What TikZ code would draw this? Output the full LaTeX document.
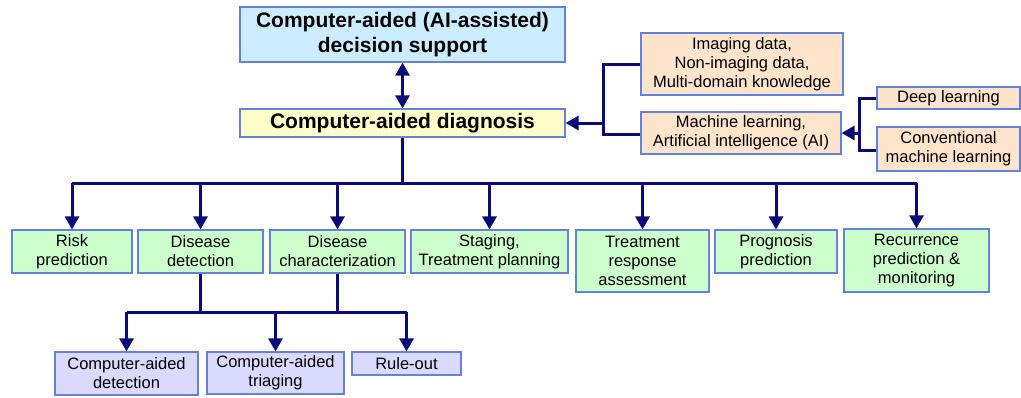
\documentclass[tikz,border=0pt]{standalone}
\usepackage{fontspec}
\setmainfont{Liberation Sans}
\usetikzlibrary{arrows.meta}
\definecolor{lblue}{RGB}{204,236,255}
\definecolor{lyellow}{RGB}{255,255,204}
\definecolor{lorange}{RGB}{253,228,202}
\definecolor{lgreen}{RGB}{204,255,204}
\definecolor{lpurple}{RGB}{218,218,255}
\definecolor{bord}{RGB}{100,130,220}
\definecolor{navyline}{RGB}{10,10,120}
\tikzset{
  box/.style={draw=bord, line width=1.2pt, inner sep=0pt, align=center, font=\fontsize{16.5}{19}\selectfont, text=black},
  bigbox/.style={box, font=\fontsize{21}{25}\selectfont\bfseries},
  conn/.style={draw=navyline, line width=3pt},
  arr/.style={conn, -{Triangle[length=13pt,width=14pt]}},
  darr/.style={conn, {Triangle[length=13pt,width=14pt]}-{Triangle[length=13pt,width=14pt]}},
}
\begin{document}
\begin{tikzpicture}[x=1pt,y=-1pt]
\useasboundingbox (0,0) rectangle (1021,397);
% top
\node[bigbox, fill=lblue, minimum width=325pt, minimum height=55pt] (top) at (402.5,34.5) {Computer-aided (AI-assisted)\\decision support};
\node[bigbox, fill=lyellow, minimum width=325pt, minimum height=28pt] (cad) at (402.5,123) {Computer-aided diagnosis};
% right
\node[box, fill=lorange, minimum width=202pt, minimum height=62pt] (img) at (742,64) {Imaging data,\\Non-imaging data,\\Multi-domain knowledge};
\node[box, fill=lorange, minimum width=200pt, minimum height=42pt] (ml) at (741,133) {Machine learning,\\Artificial intelligence (AI)};
\node[box, fill=lorange, minimum width=143pt, minimum height=22pt] (dl) at (948.5,98) {Deep learning};
\node[box, fill=lorange, minimum width=143pt, minimum height=44pt] (conv) at (948.5,149) {Conventional\\machine learning};
% middle row
\node[box, fill=lgreen, minimum width=120pt, minimum height=43pt] (risk) at (72,251.5) {Risk\\prediction};
\node[box, fill=lgreen, minimum width=125pt, minimum height=43pt] (det) at (200.5,251.5) {Disease\\detection};
\node[box, fill=lgreen, minimum width=135pt, minimum height=43pt] (char) at (337.5,251.5) {Disease\\characterization};
\node[box, fill=lgreen, minimum width=157pt, minimum height=43pt] (stag) at (489.5,251.5) {Staging,\\Treatment planning};
\node[box, fill=lgreen, minimum width=133pt, minimum height=62pt] (resp) at (642.5,261) {Treatment\\response\\assessment};
\node[box, fill=lgreen, minimum width=122pt, minimum height=43pt] (prog) at (776,251.5) {Prognosis\\prediction};
\node[box, fill=lgreen, minimum width=145pt, minimum height=63pt] (rec) at (916.5,260.5) {Recurrence\\prediction \&\\monitoring};
% bottom row
\node[box, fill=lpurple, minimum width=143pt, minimum height=43pt] (cadd) at (126.5,373.5) {Computer-aided\\detection};
\node[box, fill=lpurple, minimum width=137pt, minimum height=42pt] (cadt) at (275.5,373) {Computer-aided\\triaging};
\node[box, fill=lpurple, minimum width=109pt, minimum height=23pt] (rule) at (406.5,363.5) {Rule-out};
% coordinates
\coordinate (bus) at (403,183);
\coordinate (bus2) at (200,312);
\coordinate (j1) at (603,123);
\coordinate (j2) at (859,133);
% connectors
\draw[darr] (top.south) -- (cad.north);
\draw[conn] (cad.south) -- (cad.south |- bus);
\draw[conn] (risk.north |- bus) -- (rec.north |- bus);
\foreach \n in {risk,det,char,stag,resp,prog,rec}{
  \draw[arr] (\n.north |- bus) -- (\n.north);
}
\draw[conn] (det.south) -- (det.south |- bus2);
\draw[conn] (char.south) -- (char.south |- bus2);
\draw[conn] (cadd.north |- bus2) -- (rule.north |- bus2);
\foreach \n in {cadd,cadt,rule}{
  \draw[arr] (\n.north |- bus2) -- (\n.north);
}
\draw[conn] (img.west) -| (j1) |- ([yshift=-1pt]ml.west);
\draw[arr] (j1) -- (cad.east);
\draw[conn] (dl.west) -| (j2) |- ([yshift=-1pt]conv.west);
\draw[arr] (j2) -- (ml.east);
\end{tikzpicture}
\end{document}
